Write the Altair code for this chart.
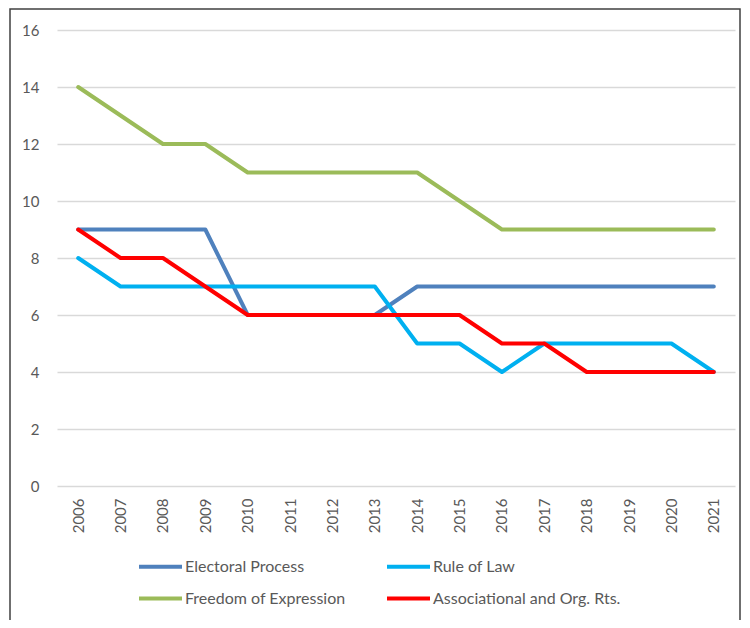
import altair as alt
import pandas as pd

years = [str(y) for y in range(2006, 2022)]
series_names = ["Electoral Process", "Rule of Law", "Freedom of Expression", "Associational and Org. Rts."]
electoral = [9, 9, 9, 9, 6, 6, 6, 6, 7, 7, 7, 7, 7, 7, 7, 7]
rule_of_law = [8, 7, 7, 7, 7, 7, 7, 7, 5, 5, 4, 5, 5, 5, 5, 4]
freedom = [14, 13, 12, 12, 11, 11, 11, 11, 11, 10, 9, 9, 9, 9, 9, 9]
assoc = [9, 8, 8, 7, 6, 6, 6, 6, 6, 6, 5, 5, 4, 4, 4, 4]
colors = ["#4F81BD", "#00B0F0", "#9BBB59", "#FF0000"]

rows = []
for i, (name, vals) in enumerate(zip(series_names, [electoral, rule_of_law, freedom, assoc])):
    for y, v in zip(years, vals):
        rows.append({"Year": y, "Value": v, "Series": name, "ord": i})
df = pd.DataFrame(rows)

# legend is filled column by column, so list entries column-wise
legend_order = [series_names[0], series_names[2], series_names[1], series_names[3]]
legend_colors = [colors[0], colors[2], colors[1], colors[3]]

FONT = "Lato"

lines = alt.Chart(df).mark_line(strokeWidth=4, strokeCap="round", strokeJoin="round").encode(
    x=alt.X("Year:O", sort=years,
            scale=alt.Scale(paddingInner=0, paddingOuter=0.5),
            axis=alt.Axis(title=None, labelAngle=270, labelAlign="right", labelBaseline="middle",
                          labelPadding=12, ticks=False, domain=False, grid=False,
                          labelFont=FONT, labelFontSize=15, labelColor="#595959")),
    y=alt.Y("Value:Q", scale=alt.Scale(domain=[0, 16], nice=False),
            axis=alt.Axis(title=None, values=[0, 2, 4, 6, 8, 10, 12, 14, 16], ticks=False, domain=False,
                          gridColor="#D9D9D9", gridWidth=1.3, labelPadding=18,
                          labelFont=FONT, labelFontSize=15, labelColor="#595959")),
    color=alt.Color("Series:N", sort=legend_order,
                    scale=alt.Scale(domain=legend_order, range=legend_colors),
                    legend=alt.Legend(title=None, orient="none", legendX=80, legendY=513,
                                      columns=2, symbolType="stroke", symbolStrokeWidth=4,
                                      symbolSize=1849, labelOffset=1, rowPadding=-4,
                                      columnPadding=33, labelLimit=400, labelFont=FONT, labelFontSize=16,
                                      labelColor="#595959", symbolOpacity=1)),
    detail="ord:N",
    order="ord:Q",
)

frame_df = pd.DataFrame({"a": [0]})
frame = alt.Chart(frame_df).mark_rect(fill=None, stroke="#404040", strokeWidth=1.5, clip=False).encode(
    x=alt.value(-47), x2=alt.value(683), y=alt.value(-21), y2=alt.value(620)
)

chart = alt.layer(frame, lines).properties(
    width=678, height=456,
    padding={"left": 49, "top": 22, "right": 6, "bottom": 134},
    autosize=alt.AutoSizeParams(type="none"),
    background="white",
).configure_view(stroke=None)

chart.save("out.html", embed_options={"renderer": "svg", "actions": False})
